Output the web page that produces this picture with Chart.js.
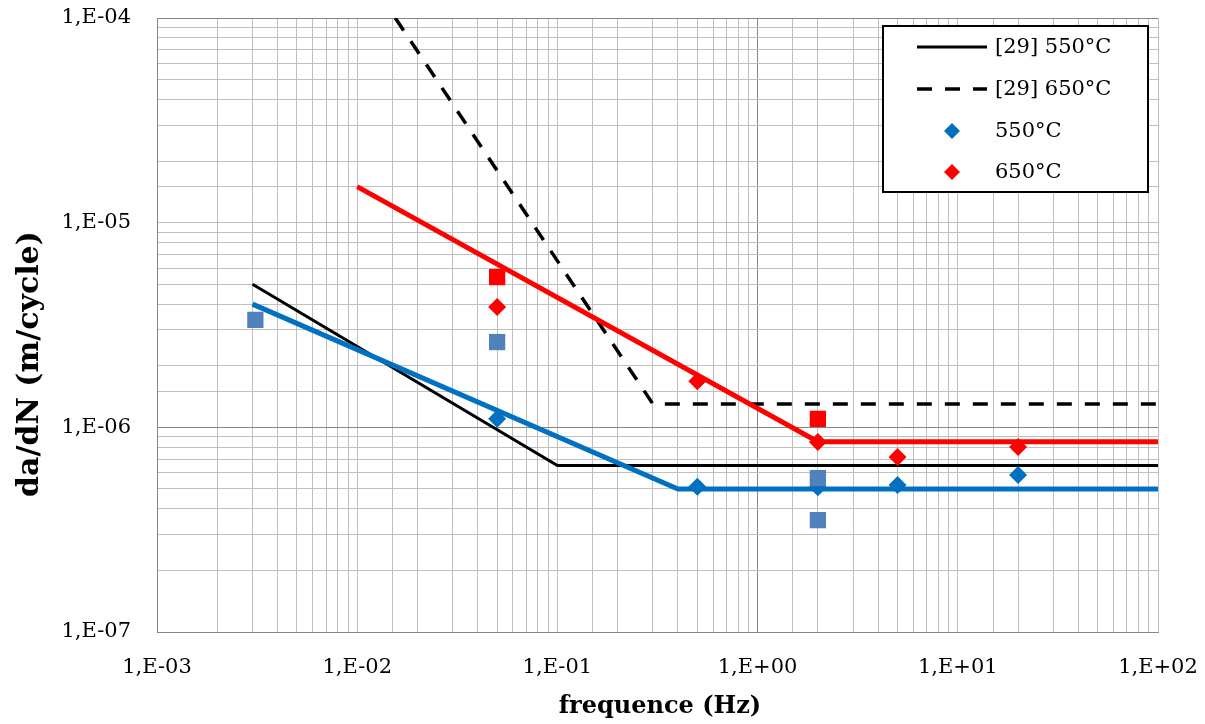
<!DOCTYPE html>
<html>
<head>
<meta charset="utf-8">
<script src="https://cdn.jsdelivr.net/npm/chart.js@4.4.0/dist/chart.umd.min.js"></script>
<style>
  html, body { margin: 0; padding: 0; background: #fff; }
</style>
</head>
<body>
<canvas id="myChart" width="1205" height="724"></canvas>
<script>
// axis decades and their labels
var xTicks = [1e-3, 1e-2, 1e-1, 1e0, 1e1, 1e2];
var xTickLabels = ['1,E-03', '1,E-02', '1,E-01', '1,E+00', '1,E+01', '1,E+02'];
var yTicks = [1e-7, 1e-6, 1e-5, 1e-4];
var yTickLabels = ['1,E-07', '1,E-06', '1,E-05', '1,E-04'];

// [29] reference curves
var ref550Freq = [0.003, 0.1, 100];
var ref550Rate = [5.0e-6, 6.5e-7, 6.5e-7];
var ref650Freq = [0.0155, 0.3, 100];
var ref650Rate = [1.0e-4, 1.3e-6, 1.3e-6];

// fitted curves
var fit550Freq = [0.003, 0.4, 100];
var fit550Rate = [4.0e-6, 5.0e-7, 5.0e-7];
var fit650Freq = [0.01, 2, 100];
var fit650Rate = [1.5e-5, 8.5e-7, 8.5e-7];

// measured points (diamonds)
var pts550Freq = [0.05, 0.5, 2, 5, 20];
var pts550Rate = [1.10e-6, 5.12e-7, 5.1e-7, 5.22e-7, 5.85e-7];
var pts650Freq = [0.05, 0.5, 2, 5, 20];
var pts650Rate = [3.87e-6, 1.68e-6, 8.47e-7, 7.16e-7, 8.02e-7];

// extra points (squares)
var sq550Freq = [0.0031, 0.05, 2, 2];
var sq550Rate = [3.35e-6, 2.61e-6, 5.65e-7, 3.52e-7];
var sq650Freq = [0.05, 2];
var sq650Rate = [5.42e-6, 1.10e-6];

function pairs(xs, ys) {
  return xs.map(function (x, i) { return { x: x, y: ys[i] }; });
}

function isNear(v, target) {
  return Math.abs(v - target) < target * 1e-6;
}

function decadeLabel(v, ticks, labels) {
  for (var i = 0; i < ticks.length; i++) {
    if (isNear(v, ticks[i])) return labels[i];
  }
  return '';
}

// keep the plot area where layout.padding puts it
function noEdgePadding(scale) {
  scale.paddingTop = 0;
  scale.paddingBottom = 0;
  scale.paddingLeft = 0;
  scale.paddingRight = 0;
}

var FONT = '"DejaVu Serif", serif';
var gridGray = '#BFBFBF';
var darkGray = '#868686';

// legend box + axis titles drawn on the canvas
var extras = {
  id: 'extras',
  afterDraw: function (chart) {
    var c = chart.ctx;
    var ds = chart.data.datasets;
    c.save();
    // axis titles
    c.fillStyle = '#000';
    c.textAlign = 'center';
    c.textBaseline = 'middle';
    c.font = 'bold 24px ' + FONT;
    c.fillText('frequence (Hz)', 660, 707);
    c.save();
    c.translate(30, 364);
    c.rotate(-Math.PI / 2);
    c.font = 'bold 30px ' + FONT;
    c.fillText('da/dN (m/cycle)', 0, 0);
    c.restore();

    // legend
    c.fillStyle = '#fff';
    c.fillRect(883, 26, 265, 166);
    c.strokeStyle = '#000';
    c.lineWidth = 2;
    c.strokeRect(883, 26, 265, 166);
    var rows = [
      { ds: ds[7], y: 47 },
      { ds: ds[6], y: 89 },
      { ds: ds[3], y: 131 },
      { ds: ds[2], y: 172 }
    ];
    c.font = '21px ' + FONT;
    c.textAlign = 'left';
    rows.forEach(function (r) {
      if (r.ds.showLine) {
        c.beginPath();
        c.strokeStyle = r.ds.borderColor;
        c.lineWidth = r.ds.borderWidth;
        c.setLineDash(r.ds.borderDash || []);
        c.moveTo(917, r.y);
        c.lineTo(987, r.y);
        c.stroke();
        c.setLineDash([]);
      } else {
        var s = 8;
        c.beginPath();
        c.fillStyle = r.ds.backgroundColor;
        c.moveTo(952, r.y - s);
        c.lineTo(952 + s, r.y);
        c.lineTo(952, r.y + s);
        c.lineTo(952 - s, r.y);
        c.closePath();
        c.fill();
      }
      c.fillStyle = '#000';
      c.fillText(r.ds.label, 995, r.y + 1);
    });
    c.restore();
  }
};

var ctx = document.getElementById('myChart');
var myChart = new Chart(ctx, {
  type: 'scatter',
  data: {
    datasets: [{
      label: 'sq650',
      data: pairs(sq650Freq, sq650Rate),
      pointStyle: 'rect',
      pointRadius: 11.5,
      backgroundColor: '#FF0000',
      borderWidth: 0
    }, {
      label: 'sq550',
      data: pairs(sq550Freq, sq550Rate),
      pointStyle: 'rect',
      pointRadius: 11.5,
      backgroundColor: '#4F81BD',
      borderWidth: 0
    }, {
      label: '650°C',
      data: pairs(pts650Freq, pts650Rate),
      pointStyle: 'rectRot',
      pointRadius: 9,
      backgroundColor: '#FF0000',
      borderWidth: 0
    }, {
      label: '550°C',
      data: pairs(pts550Freq, pts550Rate),
      pointStyle: 'rectRot',
      pointRadius: 9,
      backgroundColor: '#0070C0',
      borderWidth: 0
    }, {
      label: 'fit650',
      data: pairs(fit650Freq, fit650Rate),
      showLine: true,
      pointRadius: 0,
      borderColor: '#FF0000',
      borderWidth: 5
    }, {
      label: 'fit550',
      data: pairs(fit550Freq, fit550Rate),
      showLine: true,
      pointRadius: 0,
      borderColor: '#0070C0',
      borderWidth: 5
    }, {
      label: '[29] 650°C',
      data: pairs(ref650Freq, ref650Rate),
      showLine: true,
      pointRadius: 0,
      borderColor: '#000',
      borderWidth: 3.5,
      borderDash: [15, 13]
    }, {
      label: '[29] 550°C',
      data: pairs(ref550Freq, ref550Rate),
      showLine: true,
      pointRadius: 0,
      borderColor: '#000',
      borderWidth: 3
    }]
  },
  options: {
    responsive: false,
    animation: false,
    layout: { padding: { left: 0, top: 18, right: 47, bottom: 0 } },
    plugins: {
      legend: { display: false },
      tooltip: { enabled: false }
    },
    scales: {
      x: {
        type: 'logarithmic',
        min: 1e-3,
        max: 1e2,
        afterFit: function (scale) { scale.height = 92; noEdgePadding(scale); },
        border: { display: true, color: darkGray, width: 1 },
        grid: {
          drawTicks: false,
          lineWidth: 1,
          color: function (c) {
            return c.tick && isNear(c.tick.value, 1) ? darkGray : gridGray;
          }
        },
        ticks: {
          autoSkip: false,
          maxRotation: 0,
          padding: 23,
          color: '#000',
          font: { family: FONT, size: 21 },
          callback: function (v) { return decadeLabel(v, xTicks, xTickLabels); }
        }
      },
      y: {
        type: 'logarithmic',
        min: 1e-7,
        max: 1e-4,
        afterFit: function (scale) { scale.width = 157; noEdgePadding(scale); },
        border: { display: true, color: darkGray, width: 1 },
        grid: {
          drawTicks: false,
          lineWidth: 1,
          color: function (c) {
            if (!c.tick) return gridGray;
            return (isNear(c.tick.value, 1e-6) || isNear(c.tick.value, 1e-4)) ? darkGray : gridGray;
          }
        },
        ticks: {
          autoSkip: false,
          padding: 26,
          color: '#000',
          font: { family: FONT, size: 21 },
          callback: function (v) { return decadeLabel(v, yTicks, yTickLabels); }
        }
      }
    }
  },
  plugins: [extras]
});
</script>
</body>
</html>
